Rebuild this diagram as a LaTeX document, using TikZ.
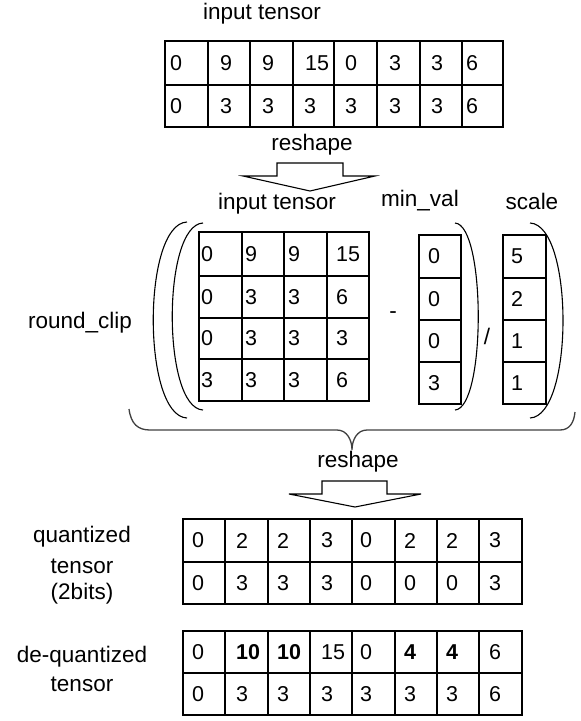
\documentclass[tikz,border=0pt]{standalone}
\usepackage{fontspec}
\setmainfont{Liberation Sans}
\begin{document}
\begin{tikzpicture}[x=1pt,y=-1pt,
  lbl/.style={font=\fontsize{22.5}{26}\selectfont, inner sep=0},
  num/.style={font=\fontsize{21.5}{25}\selectfont, inner sep=0, anchor=west},
  thinln/.style={line width=1.1pt},
  heavy/.style={line width=2.8pt},
  pline/.style={line width=1.1pt},
  braceln/.style={line width=1.3pt, draw=black!75},
  blockarrow/.style={line width=1.1pt, line join=miter}]
\useasboundingbox (0,0) rectangle (581,721);

% ---------- top input tensor ----------
\node[lbl] (t1) at (262,14) {input tensor};
\foreach \x in {208,250,293,334,377,420,462} \draw[thinln] (\x,41) -- (\x,127);
\draw[heavy] (165,41) rectangle (503,127);
\draw[heavy] (165,85) -- (503,85);
\foreach \v/\x [count=\i] in {0/170,9/220,9/262,15/305,0/345,3/389,3/431,6/466}
  \node[num] (ta\i) at (\x,63) {\v};
\foreach \v/\x [count=\i] in {0/170,3/220,3/262,3/304,3/345,3/389,3/431,6/466}
  \node[num] (tb\i) at (\x,106) {\v};

% ---------- reshape arrow 1 ----------
\node[lbl] (r1) at (312,145) {reshape};
\draw[blockarrow] (277,163) -- (343,163) -- (343,176) -- (375,176) -- (310,191)
  -- (243,176) -- (277,176) -- cycle;

% ---------- labels ----------
\node[lbl] (t2) at (277,204) {input tensor};
\node[lbl] (mv) at (420,201) {min\_val};
\node[lbl] (sc) at (532,201) {scale};
\node[lbl] (rc) at (80,323) {round\_clip};
\node[lbl] (minus) at (393,315) {-};
\node[lbl] (slash) at (487,336) {/};

% ---------- 4x4 matrix ----------
\foreach \x in {242,284,327} \draw[thinln] (\x,232) -- (\x,401);
\draw[thinln] (199,276) -- (369,276);
\draw[heavy] (199,232) rectangle (369,401);
\draw[heavy] (199,318) -- (369,318);
\draw[heavy] (199,359) -- (369,359);
\foreach \v/\x [count=\i] in {0/201,9/245,9/288,15/336} \node[num] (ma\i) at (\x,254) {\v};
\foreach \v/\x [count=\i] in {0/201,3/245,3/288,6/336} \node[num] (mb\i) at (\x,297) {\v};
\foreach \v/\x [count=\i] in {0/201,3/245,3/288,3/336} \node[num] (mc\i) at (\x,338.5) {\v};
\foreach \v/\x [count=\i] in {3/201,3/245,3/288,6/336} \node[num] (md\i) at (\x,380) {\v};

% ---------- min_val and scale columns ----------
\draw[thinln] (419,235) rectangle (461,404);
\draw[thinln] (503,235) rectangle (546,404);
\foreach \y in {278,320,362}{
  \draw[thinln] (419,\y) -- (461,\y);
  \draw[thinln] (503,\y) -- (546,\y);
}
\foreach \v/\y [count=\i] in {0/256.5,0/299,0/341,3/383} \node[num] (mn\i) at (428,\y) {\v};
\foreach \v/\y [count=\i] in {5/256.5,2/299,1/341,1/383} \node[num] (sv\i) at (511,\y) {\v};

% ---------- parentheses ----------
\draw[pline] (187,222) .. controls (142,224) and (142,416) .. (187,418);
\draw[pline] (203,223) .. controls (162,225) and (162,408) .. (203,410);
\draw[pline] (455,223) .. controls (486,225) and (486,408) .. (455,410);
\draw[pline] (530,223) .. controls (574,225) and (574,416) .. (530,418);

% ---------- brace ----------
\draw[braceln] (129,409) .. controls (131,424) and (138,430) .. (150,430) -- (337,430)
  .. controls (347,430) and (352,440) .. (352,450)
  .. controls (352,440) and (357,430) .. (367,430) -- (560,430)
  .. controls (570,430) and (574,422) .. (575,412);

% ---------- reshape arrow 2 ----------
\node[lbl] (r2) at (358,462) {reshape};
\draw[blockarrow] (322,481) -- (387,481) -- (387,494) -- (421,494) -- (355,507)
  -- (289,494) -- (322,494) -- cycle;

% ---------- quantized tensor ----------
\node[lbl] (q1) at (82,537) {quantized};
\node[lbl] (q2) at (82,566) {tensor};
\node[lbl] (q3) at (82,594) {(2bits)};
\foreach \x in {225,268,310,352,395,437,479} \draw[thinln] (\x,519) -- (\x,604);
\draw[thinln] (183,519) rectangle (522,604);
\draw[thinln] (183,562) -- (522,562);
\foreach \v/\x [count=\i] in {0/192,2/236,2/277,3/321,0/360,2/404,2/446,3/489}
  \node[num] (qa\i) at (\x,540.5) {\v};
\foreach \v/\x [count=\i] in {0/192,3/236,3/277,3/321,0/360,0/404,0/446,3/489}
  \node[num] (qb\i) at (\x,583) {\v};

% ---------- de-quantized tensor ----------
\node[lbl] (d1) at (82,657) {de-quantized};
\node[lbl] (d2) at (82,684) {tensor};
\foreach \x in {225,268,310,352,395,437,479} \draw[thinln] (\x,631) -- (\x,715);
\draw[thinln] (183,631) rectangle (522,715);
\draw[thinln] (183,673) -- (522,673);
\node[num] (da1) at (192,652) {0};
\node[num] (da2) at (236,652) {\textbf{10}};
\node[num] (da3) at (277,652) {\textbf{10}};
\node[num] (da4) at (321,652) {15};
\node[num] (da5) at (360,652) {0};
\node[num] (da6) at (404,652) {\textbf{4}};
\node[num] (da7) at (446,652) {\textbf{4}};
\node[num] (da8) at (489,652) {6};
\foreach \v/\x [count=\i] in {0/192,3/236,3/277,3/321,3/360,3/404,3/446,6/489}
  \node[num] (db\i) at (\x,694) {\v};
\end{tikzpicture}
\end{document}
